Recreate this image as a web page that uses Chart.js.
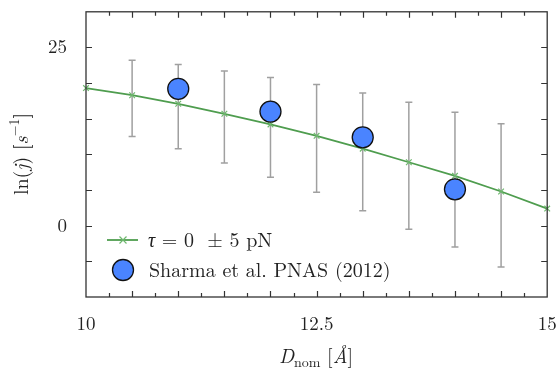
<!DOCTYPE html>
<html>
<head>
<meta charset="utf-8">
<script src="https://cdn.jsdelivr.net/npm/chart.js@4/dist/chart.umd.min.js"></script>
<style>
  html, body { margin: 0; padding: 0; background: #fff; }
  #wrap { width: 559px; height: 370px; }
</style>
</head>
<body>
<div id="wrap"><canvas id="c" width="559" height="370"></canvas></div>
<script>
// model curve, tau = 0 (with +/- 5 pN spread)
const dNom = [10, 10.5, 11, 11.5, 12, 12.5, 13, 13.5, 14, 14.5, 15];
const lnJ = [19.3, 18.3, 17.1, 15.7, 14.2, 12.6, 10.8, 8.9, 7.0, 4.8, 2.4];
const errHigh = [null, 23.2, 22.6, 21.7, 20.8, 19.8, 18.6, 17.3, 15.9, 14.3, null];
const errLow = [null, 12.5, 10.8, 8.8, 6.8, 4.7, 2.1, -0.5, -3.0, -5.8, null];

// Sharma et al. PNAS (2012)
const expD = [11, 12, 13, 14];
const expLnJ = [19.2, 16.0, 12.4, 5.1];

const xTickLabels = [10, 12.5, 15];
const yTickLabels = [0, 25];

const SERIF = '"Latin Modern Roman", "Liberation Serif", "DejaVu Serif", serif';
const GREEN = '#4f9d4f';
const BLUE = '#4a84ff';

const errorBars = {
    id: 'errorBars',
    beforeDatasetsDraw(chart) {
        const { ctx, scales: { x, y } } = chart;
        ctx.save();
        ctx.strokeStyle = '#a0a0a0';
        ctx.lineWidth = 1.5;
        dNom.forEach((d, i) => {
            if (errHigh[i] == null) return;
            const px = x.getPixelForValue(d);
            const top = y.getPixelForValue(errHigh[i]);
            const bot = y.getPixelForValue(errLow[i]);
            ctx.beginPath();
            ctx.moveTo(px, top); ctx.lineTo(px, bot);
            ctx.moveTo(px - 3.5, top); ctx.lineTo(px + 3.5, top);
            ctx.moveTo(px - 3.5, bot); ctx.lineTo(px + 3.5, bot);
            ctx.stroke();
        });
        ctx.restore();
    }
};

// draw runs of [font, text, dy] one after another
function drawRuns(ctx, runs, x0, y0, center) {
    let w = 0;
    runs.forEach(r => { ctx.font = r[0]; w += ctx.measureText(r[1]).width; });
    let px = center ? x0 - w / 2 : x0;
    runs.forEach(r => {
        ctx.font = r[0];
        ctx.fillText(r[1], px, y0 + r[2]);
        px += ctx.measureText(r[1]).width;
    });
}

const frame = {
    id: 'frame',
    afterDraw(chart) {
        const { ctx, chartArea: a, scales: { x, y } } = chart;
        ctx.save();
        ctx.strokeStyle = '#333';
        ctx.lineWidth = 1.3;
        ctx.strokeRect(a.left, a.top, a.right - a.left, a.bottom - a.top);

        // inward tick marks on all four sides
        ctx.lineWidth = 1.2;
        ctx.beginPath();
        for (let v = 10.25; v < 15; v += 0.25) {
            const px = Math.round(x.getPixelForValue(v)) + 0.5;
            const len = Math.abs((v * 2) % 1) < 1e-6 ? 6 : 4;
            ctx.moveTo(px, a.bottom); ctx.lineTo(px, a.bottom - len);
            ctx.moveTo(px, a.top); ctx.lineTo(px, a.top + len);
        }
        for (let v = -5; v < 30; v += 5) {
            const py = Math.round(y.getPixelForValue(v)) + 0.5;
            ctx.moveTo(a.left, py); ctx.lineTo(a.left + 6, py);
            ctx.moveTo(a.right, py); ctx.lineTo(a.right - 6, py);
        }
        ctx.stroke();

        // legend
        ctx.strokeStyle = GREEN;
        ctx.lineWidth = 1.8;
        ctx.beginPath();
        ctx.moveTo(107, 240); ctx.lineTo(138, 240);
        ctx.stroke();
        ctx.lineWidth = 1.2;
        ctx.strokeStyle = '#6fb86f';
        ctx.beginPath();
        ctx.moveTo(119.5, 236.5); ctx.lineTo(126.5, 243.5);
        ctx.moveTo(126.5, 236.5); ctx.lineTo(119.5, 243.5);
        ctx.stroke();

        ctx.fillStyle = '#222';
        ctx.textBaseline = 'alphabetic';
        ctx.textAlign = 'left';
        drawRuns(ctx, [
            ['italic 20px ' + SERIF, 'τ', 0],
            ['20px ' + SERIF, ' = 0  ± 5 pN', 0]
        ], 148, 247, false);

        ctx.beginPath();
        ctx.arc(123, 270, 10.5, 0, Math.PI * 2);
        ctx.fillStyle = BLUE;
        ctx.fill();
        ctx.strokeStyle = '#111';
        ctx.lineWidth = 1.3;
        ctx.stroke();
        ctx.fillStyle = '#222';
        ctx.font = '20px ' + SERIF;
        ctx.fillText('Sharma et al. PNAS (2012)', 149, 277);

        // x title: D_nom [Å]
        drawRuns(ctx, [
            ['italic 20px ' + SERIF, 'D', 0],
            ['14px ' + SERIF, 'nom', 4],
            ['20px ' + SERIF, ' [', 0],
            ['italic 20px ' + SERIF, 'Å', 0],
            ['20px ' + SERIF, ']', 0]
        ], 316, 363, true);

        // y title: ln(j) [s^-1]
        ctx.translate(28, 154);
        ctx.rotate(-Math.PI / 2);
        drawRuns(ctx, [
            ['20px ' + SERIF, 'ln(', 0],
            ['italic 20px ' + SERIF, 'j', 0],
            ['20px ' + SERIF, ') [', 0],
            ['italic 20px ' + SERIF, 's', 0],
            ['14px ' + SERIF, '−1', -9],
            ['20px ' + SERIF, ']', 0]
        ], 0, 0, true);
        ctx.restore();
    }
};

new Chart(document.getElementById('c'), {
    type: 'line',
    data: {
        datasets: [
            {
                label: 'Sharma et al. PNAS (2012)',
                data: expD.map((d, i) => ({ x: d, y: expLnJ[i] })),
                showLine: false,
                pointRadius: 10.5,
                pointBackgroundColor: BLUE,
                pointBorderColor: '#111',
                pointBorderWidth: 1.3,
                order: 0
            },
            {
                label: 'τ = 0 ± 5 pN',
                data: dNom.map((d, i) => ({ x: d, y: lnJ[i] })),
                borderColor: GREEN,
                borderWidth: 1.8,
                pointStyle: 'crossRot',
                pointRadius: 4,
                pointBorderColor: '#6fb86f',
                pointBorderWidth: 1.2,
                tension: 0,
                fill: false,
                clip: 8,
                order: 1
            }
        ]
    },
    options: {
        responsive: false,
        animation: false,
        events: [],
        layout: { padding: { left: 0, right: 11, top: 11, bottom: 0 } },
        plugins: { legend: { display: false }, tooltip: { enabled: false } },
        scales: {
            x: {
                type: 'linear',
                min: 10, max: 15,
                border: { display: false },
                grid: { display: false, drawTicks: false },
                afterFit: s => {
                    s.height = 73;
                    s.paddingLeft = 0; s.paddingRight = 0;
                },
                afterBuildTicks: s => { s.ticks = xTickLabels.map(v => ({ value: v })); },
                ticks: {
                    autoSkip: false,
                    maxRotation: 0,
                    padding: 16,
                    color: '#222',
                    font: { family: SERIF, size: 19 },
                    callback: v => String(v)
                }
            },
            y: {
                min: -10, max: 30,
                border: { display: false },
                grid: { display: false, drawTicks: false },
                afterFit: s => {
                    s.width = 86;
                    s.paddingTop = 0; s.paddingBottom = 0;
                },
                afterBuildTicks: s => { s.ticks = yTickLabels.map(v => ({ value: v })); },
                ticks: {
                    padding: 19,
                    color: '#222',
                    font: { family: SERIF, size: 19 },
                    callback: v => String(v)
                }
            }
        }
    },
    plugins: [errorBars, frame]
});
</script>
</body>
</html>
